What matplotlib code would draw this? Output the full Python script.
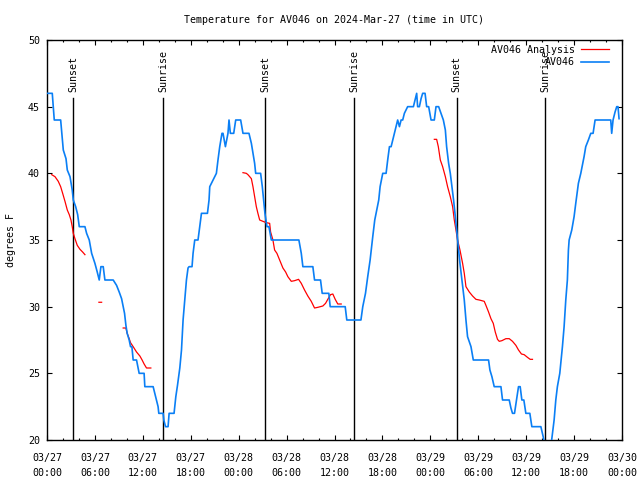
import numpy as np
import pandas as pd
import matplotlib
matplotlib.use("Agg")
import matplotlib.pyplot as plt
import matplotlib.dates as mdates
import matplotlib.transforms as mtransforms

plt.rcParams['font.family'] = ['DejaVu Sans Mono']
plt.rcParams['font.size'] = 7.2

START = pd.Timestamp('2024-03-27 00:00')

# AV046 observed temperature (hours since start, degrees F)
obs_hours = [0.0, 0.66, 0.79, 0.91, 1.71, 1.84, 2.04, 2.38, 2.54, 2.88, 3.16, 3.29, 3.59, 3.84,
             4.04, 4.75, 4.96, 5.29, 5.59, 6.0, 6.29, 6.54, 6.75, 7.04, 7.25, 8.29, 8.71, 9.04,
             9.34, 9.54, 9.71, 9.88, 10.04, 10.29, 10.46, 10.63, 10.79, 11.21, 11.54, 12.16,
             12.25, 13.29, 13.5, 13.71, 13.91, 14.0, 14.54, 14.63, 14.84, 15.16, 15.29, 15.91,
             16.13, 16.34, 16.63, 16.84, 17.04, 17.25, 17.46, 17.66, 17.79, 18.16, 18.29, 18.5,
             18.91, 19.13, 19.34, 20.09, 20.29, 20.38, 20.79, 21.21, 21.41, 21.63, 21.91, 22.04,
             22.34, 22.66, 22.79, 22.96, 23.38, 23.63, 24.25, 24.54, 25.29, 25.59, 25.79, 26.0,
             26.13, 26.75, 26.96, 27.13, 27.29, 27.54, 27.79, 28.09, 31.54, 31.84, 32.04, 33.29,
             33.5, 34.25, 34.46, 35.29, 35.46, 37.34, 37.54, 39.31, 39.54, 39.88, 40.16, 40.46,
             40.79, 41.04, 41.29, 41.54, 41.71, 42.04, 42.46, 42.66, 42.88, 43.09, 43.29, 43.5,
             43.91, 44.13, 44.34, 44.54, 44.75, 45.16, 45.88, 46.13, 46.29, 46.41, 46.63, 46.84,
             47.04, 47.34, 47.54, 47.79, 48.09, 48.5, 48.71, 49.04, 49.34, 49.63, 49.88, 50.04,
             50.29, 50.5, 50.71, 50.91, 51.13, 51.29, 51.5, 51.71, 51.96, 52.25, 52.46, 52.66,
             53.09, 53.38, 55.29, 55.46, 55.71, 56.0, 56.84, 57.04, 57.88, 58.09, 58.29, 58.54,
             58.79, 59.04, 59.25, 59.46, 59.71, 59.96, 60.46, 60.71, 61.84, 62.13, 62.38, 63.09,
             63.29, 63.5, 63.71, 63.91, 64.21, 64.54, 64.75, 64.96, 65.16, 65.29, 65.38, 65.71,
             66.0, 66.21, 66.54, 66.84, 67.25, 67.46, 67.79, 68.09, 68.38, 68.63, 70.59, 70.71,
             70.88, 71.13, 71.34, 71.5, 71.63]
obs_temps = [46.0, 46.0, 45.0, 44.0, 44.0, 43.1, 41.75, 41.1, 40.25, 39.75, 38.75, 38.0, 37.5, 36.9,
             36.0, 36.0, 35.5, 35.0, 34.0, 33.25, 32.6, 32.0, 33.0, 33.0, 32.0, 32.0, 31.6, 31.1,
             30.6, 30.0, 29.5, 28.6, 28.0, 27.5, 27.0, 27.0, 26.0, 26.0, 25.0, 25.0,
             24.0, 24.0, 23.5, 23.0, 22.5, 22.0, 22.0, 21.5, 21.0, 21.0, 22.0, 22.0,
             23.25, 24.1, 25.4, 26.75, 29.0, 30.5, 32.0, 32.9, 33.0, 33.0, 34.0, 35.0,
             35.0, 36.0, 37.0, 37.0, 38.0, 39.0, 39.5, 40.0, 41.0, 42.0, 43.0, 43.0,
             42.0, 43.0, 44.0, 43.0, 43.0, 44.0, 44.0, 43.0, 43.0, 42.25, 41.5, 40.75,
             40.0, 40.0, 39.0, 38.0, 37.0, 36.0, 36.0, 35.0, 35.0, 34.0, 33.0, 33.0,
             32.0, 32.0, 31.0, 31.0, 30.0, 30.0, 29.0, 29.0, 30.0, 31.0, 32.25, 33.5,
             35.25, 36.5, 37.25, 38.0, 39.0, 40.0, 40.0, 41.0, 42.0, 42.0, 42.5, 43.0,
             44.0, 43.5, 44.0, 44.0, 44.5, 45.0, 45.0, 45.6, 46.0, 45.0, 45.0, 45.6,
             46.0, 46.0, 45.0, 45.0, 44.0, 44.0, 45.0, 45.0, 44.5, 44.0, 43.25, 42.0,
             40.75, 40.0, 39.0, 38.0, 36.75, 35.75, 34.5, 33.25, 32.0, 30.5, 29.0, 27.75,
             27.0, 26.0, 26.0, 25.25, 24.75, 24.0, 24.0, 23.0, 23.0, 22.4, 22.0, 22.0,
             23.0, 24.0, 24.0, 23.0, 23.0, 22.0, 22.0, 21.0, 21.0, 20.25, 19.5, 19.5,
             20.5, 21.5, 23.0, 24.0, 25.0, 27.0, 28.5, 30.5, 32.0, 34.25, 35.0, 35.75,
             36.75, 37.75, 39.25, 40.0, 41.25, 42.0, 42.5, 43.0, 43.0, 44.0, 44.0, 43.0,
             44.0, 44.6, 45.0, 45.0, 44.1]

# AV046 Analysis (gaps marked with nan)
nan = float('nan')
ana_hours = [0.59, 1.0, 1.41, 1.71, 1.96, 2.25, 2.54, 2.79, 3.0, 3.16, 3.29, 3.5, 3.79, 4.13, 4.46, 4.75, nan,
             6.5, 6.84, nan,
             9.54, 9.88, 10.04, 10.29, 10.46, 10.79, 11.21, 11.63, 11.91, 12.16, 12.46, 13.0, nan,
             24.54, 24.96, 25.16, 25.38, 25.59, 25.79, 26.0, 26.21, 26.41, 26.63, 27.04, 27.46, 27.88,
             28.0, 28.29, 28.5, 28.79, 29.13, 29.54, 29.88, 30.16, 30.59, 31.0, 31.5, 31.84, 32.25,
             32.66, 33.09, 33.5, 33.91, 34.54, 34.88, 35.16, 35.5, 35.79, 36.09, 36.41, 36.84, nan,
             48.5, 48.79, 49.0, 49.25, 49.54, 49.88, 50.16, 50.5, 50.79, 51.0, 51.21, 51.41, 51.71,
             52.04, 52.25, 52.46, 52.88, 53.29, 53.71, 54.13, 54.75, 54.96, 55.29, 55.59, 55.88,
             56.13, 56.41, 56.63, 56.96, 57.46, 57.88, 58.29, 58.71, 59.04, 59.41, 59.75, 60.16,
             60.5, 60.79]
ana_temps = [39.9, 39.75, 39.4, 39.0, 38.5, 37.9, 37.25, 36.9, 36.5, 36.0, 35.5, 35.1, 34.6, 34.3, 34.1, 33.9, nan,
             30.33, 30.33, nan,
             28.4, 28.4, 28.0, 27.6, 27.3, 27.0, 26.6, 26.3, 26.0, 25.7, 25.4, 25.4, nan,
             40.05, 40.0, 39.9, 39.75, 39.6, 39.0, 38.25, 37.5, 37.0, 36.5, 36.4, 36.3, 36.25,
             35.6, 35.0, 34.25, 34.0, 33.5, 32.9, 32.6, 32.25, 31.9, 31.95, 32.05, 31.75, 31.25,
             30.8, 30.4, 29.9, 29.95, 30.05, 30.25, 30.55, 30.9, 30.95, 30.55, 30.2, 30.2, nan,
             42.55, 42.55, 42.0, 41.0, 40.5, 39.75, 39.0, 38.25, 37.5, 36.5, 35.75, 35.0, 34.25,
             33.25, 32.5, 31.5, 31.1, 30.8, 30.55, 30.5, 30.4, 30.1, 29.6, 29.1, 28.75,
             28.1, 27.55, 27.4, 27.45, 27.6, 27.6, 27.4, 27.1, 26.75, 26.45, 26.4, 26.2,
             26.05, 26.05]

sun_hours = [3.3, 14.55, 27.3, 38.5, 51.3, 62.4]
sun_labels = ['Sunset', 'Sunrise', 'Sunset', 'Sunrise', 'Sunset', 'Sunrise']


def to_time(hours):
    return START + pd.to_timedelta(np.asarray(hours, dtype=float), unit='h')


fig = plt.figure(figsize=(6.4, 4.8), dpi=100)
ax = fig.add_axes([47 / 640, 40 / 480, 575 / 640, 400 / 480])

trans = mtransforms.blended_transform_factory(ax.transData, ax.transAxes)
for h, lab in zip(sun_hours, sun_labels):
    t = mdates.date2num(to_time([h])[0])
    ax.plot([t, t], [0, 0.855], color='black', lw=1.0, transform=trans, zorder=1)
    ax.text(t, 0.87, lab, rotation=90, ha='center', va='bottom', transform=trans, fontsize=7.2)

ax.plot(to_time(ana_hours), ana_temps, color='#ff0000', lw=0.9, label='AV046 Analysis', zorder=2)
ax.plot(to_time(obs_hours), obs_temps, color='#0a7ff5', lw=1.2, label='AV046', zorder=3)

ax.set_xlim(START, START + pd.Timedelta(hours=72))
ax.set_ylim(20, 50)
ax.set_yticks(np.arange(20, 51, 5))
ax.xaxis.set_major_locator(mdates.HourLocator(byhour=range(0, 24, 6)))
ax.xaxis.set_minor_locator(mdates.HourLocator(byhour=range(0, 24, 2)))
ax.xaxis.set_major_formatter(mdates.DateFormatter('%m/%d\n%H:%M'))
for lbl in ax.get_xticklabels():
    lbl.set_linespacing(1.65)
ax.tick_params(which='both', direction='in', top=True, right=True, width=0.8, labelsize=7.2)
ax.tick_params(which='major', length=3.5)
ax.tick_params(which='minor', length=1.6)
ax.tick_params(axis='x', pad=9.5)
ax.tick_params(axis='y', pad=5)
for s in ax.spines.values():
    s.set_linewidth(1.0)

ax.set_ylabel('degrees F', fontsize=7.2, labelpad=9)
ax.set_title('Temperature for AV046 on 2024-Mar-27 (time in UTC)', fontsize=7.2, pad=12.5)

ax.legend(loc='upper right', bbox_to_anchor=(1 - 10 / 575, 1 - 2 / 400), frameon=False,
          markerfirst=False, handlelength=2.8, handletextpad=0.6, borderaxespad=0.1,
          borderpad=0.2, labelspacing=0.25, fontsize=7.2)

fig.savefig('out.png', dpi=100)
